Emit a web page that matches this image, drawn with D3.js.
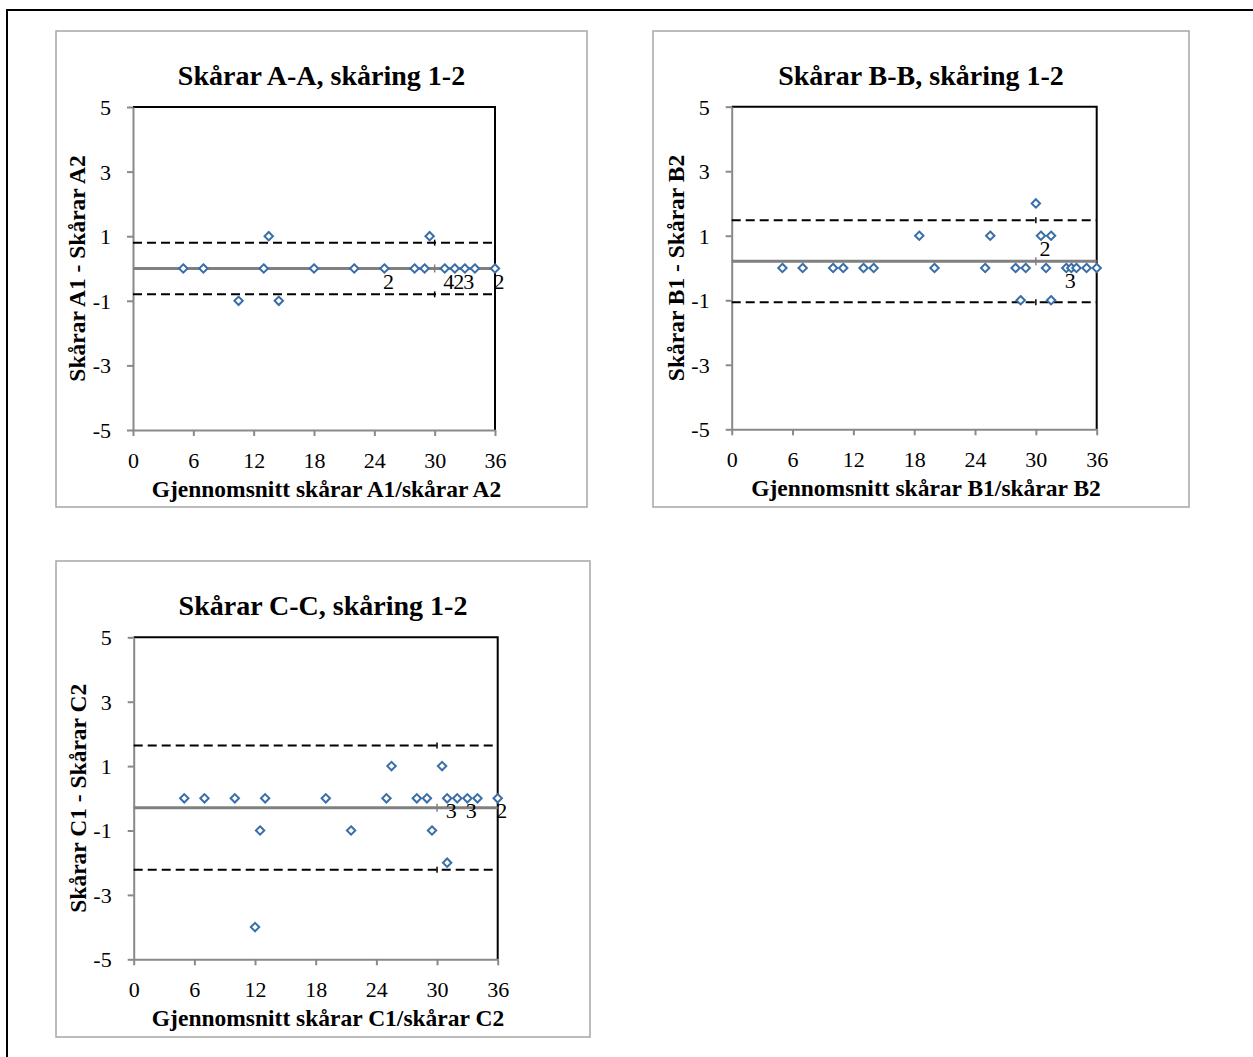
<!DOCTYPE html>
<html>
<head>
<meta charset="utf-8">
<script src="https://cdn.jsdelivr.net/npm/d3@7"></script>
<style>
  body { margin: 0; background: #fff; }
  svg text { font-family: "Times New Roman", "Liberation Serif", Times, serif; fill: #000; }
  .axis path, .axis line { stroke: #898989; stroke-width: 2; }
</style>
</head>
<body>
<svg id="chart" width="1253" height="1057"></svg>
<script>
// x ticks and y ticks shared by the three panels
const xTicks = [0, 6, 12, 18, 24, 30, 36];
const yTicks = [5, 3, 1, -1, -3, -5];

// [mean score, difference]
const pointsA = [
    [5, 0], [7, 0], [10.5, -1], [13, 0], [13.5, 1], [14.5, -1], [18, 0], [22, 0],
    [25, 0], [28, 0], [29, 0], [29.5, 1], [31, 0], [32, 0], [33, 0], [34, 0], [36, 0]
];
const pointsB = [
    [5, 0], [7, 0], [10, 0], [11, 0], [13, 0], [14, 0], [18.5, 1], [20, 0],
    [25, 0], [25.5, 1], [28, 0], [28.5, -1], [29, 0], [30, 2], [30.5, 1], [31, 0],
    [31.5, 1], [31.5, -1], [33, 0], [33.5, 0], [34, 0], [35, 0], [36, 0]
];
const pointsC = [
    [5, 0], [7, 0], [10, 0], [12, -4], [12.5, -1], [13, 0], [19, 0], [21.5, -1],
    [25, 0], [25.5, 1], [28, 0], [29, 0], [29.5, -1], [30.5, 1], [31, 0], [31, -2],
    [32, 0], [33, 0], [34, 0], [36, 0]
];

// [x, y, number of overlapping observations]
const countsA = [[25, 0, 2], [31, 0, 4], [32, 0, 2], [33, 0, 3], [36, 0, 2]];
const countsB = [[30.5, 1, 2], [33, 0, 3]];
const countsC = [[31, 0, 3], [33, 0, 3], [36, 0, 2]];

// [mean difference, lower limit, upper limit]
const statsA = [0, -0.8, 0.8];
const statsB = [0.21, -1.06, 1.48];
const statsC = [-0.29, -2.22, 1.64];

const panels = [
    {title: "Skårar A-A, skåring 1-2", xLabel: "Gjennomsnitt skårar A1/skårar A2", yLabel: "Skårar A1 - Skårar A2",
     points: pointsA, counts: countsA, stats: statsA,
     box: [56, 31, 587, 507], plot: [133, 107, 495, 430]},
    {title: "Skårar B-B, skåring 1-2", xLabel: "Gjennomsnitt skårar B1/skårar B2", yLabel: "Skårar B1 - Skårar B2",
     points: pointsB, counts: countsB, stats: statsB,
     box: [653, 31, 1189, 507], plot: [731.7, 106.7, 1096.7, 429.3]},
    {title: "Skårar C-C, skåring 1-2", xLabel: "Gjennomsnitt skårar C1/skårar C2", yLabel: "Skårar C1 - Skårar C2",
     points: pointsC, counts: countsC, stats: statsC,
     box: [56, 561, 590, 1037], plot: [133.7, 637.3, 497.7, 959.3]}
];

const svg = d3.select("#chart");

svg.append("rect")
    .attr("width", 1253).attr("height", 1057)
    .attr("fill", "#fff");

// outer frame
svg.append("rect")
    .attr("x", 7).attr("y", 10)
    .attr("width", 1260).attr("height", 1060)
    .attr("fill", "none")
    .attr("stroke", "#000")
    .attr("stroke-width", 2);

const diamond = r => `M0,${-r}L${r},0L0,${r}L${-r},0Z`;
const plain = d => String(d);

panels.forEach(drawPanel);

function drawPanel(p) {
    const [bx0, by0, bx1, by1] = p.box;
    const [px0, py0, px1, py1] = p.plot;
    const g = svg.append("g");

    g.append("rect")
        .attr("x", bx0).attr("y", by0)
        .attr("width", bx1 - bx0).attr("height", by1 - by0)
        .attr("fill", "#fff")
        .attr("stroke", "#a6a6a6")
        .attr("stroke-width", 1.5);

    const x = d3.scaleLinear().domain([0, 36]).range([px0, px1]);
    const y = d3.scaleLinear().domain([-5, 5]).range([py1, py0]);

    // top and right edges of the plot area
    g.append("path")
        .attr("d", `M${px0},${py0}H${px1}V${py1}`)
        .attr("fill", "none")
        .attr("stroke", "#000")
        .attr("stroke-width", 2);

    g.append("g")
        .attr("class", "axis")
        .attr("transform", `translate(0,${py1})`)
        .call(d3.axisBottom(x).tickValues(xTicks).tickFormat(plain)
            .tickSize(6).tickSizeOuter(0).tickPadding(16));

    g.append("g")
        .attr("class", "axis")
        .attr("transform", `translate(${px0},0)`)
        .call(d3.axisLeft(y).tickValues(yTicks).tickFormat(plain)
            .tickSize(6).tickSizeOuter(0).tickPadding(16))
        .call(a => a.selectAll("text").attr("dy", "0.34em"));

    g.selectAll(".axis")
        .attr("font-family", null)
        .attr("font-size", 22);

    // mean and limits of agreement
    const [mean, lower, upper] = p.stats;
    [lower, upper].forEach(v => {
        g.append("line")
            .attr("x1", x(0)).attr("x2", x(36))
            .attr("y1", y(v)).attr("y2", y(v))
            .attr("stroke", "#000")
            .attr("stroke-width", 2)
            .attr("stroke-dasharray", "9,5");
        g.append("line")
            .attr("x1", x(30)).attr("x2", x(30))
            .attr("y1", y(v) - 3).attr("y2", y(v) + 3)
            .attr("stroke", "#000")
            .attr("stroke-width", 1.5);
    });
    g.append("line")
        .attr("x1", x(0)).attr("x2", x(36))
        .attr("y1", y(mean)).attr("y2", y(mean))
        .attr("stroke", "#808080")
        .attr("stroke-width", 3);
    g.append("line")
        .attr("x1", x(30)).attr("x2", x(30))
        .attr("y1", y(mean) - 4).attr("y2", y(mean) + 4)
        .attr("stroke", "#808080")
        .attr("stroke-width", 1.5);

    g.selectAll(".pt")
        .data(p.points)
        .enter()
        .append("path")
        .attr("class", "pt")
        .attr("d", diamond(4.2))
        .attr("transform", d => `translate(${x(d[0])},${y(d[1])})`)
        .attr("fill", "#fff")
        .attr("stroke", "#3a6ea8")
        .attr("stroke-width", 2);

    g.selectAll(".count")
        .data(p.counts)
        .enter()
        .append("text")
        .attr("class", "count")
        .attr("x", d => x(d[0]) + 4)
        .attr("y", d => y(d[1]) + 20)
        .attr("text-anchor", "middle")
        .attr("font-size", 22)
        .text(d => d[2]);

    const cx = (bx0 + bx1) / 2;

    g.append("text")
        .attr("x", cx).attr("y", by0 + 54)
        .attr("text-anchor", "middle")
        .attr("font-size", 28)
        .attr("font-weight", "bold")
        .text(p.title);

    g.append("text")
        .attr("x", cx + 5).attr("y", py1 + 67)
        .attr("text-anchor", "middle")
        .attr("font-size", 23.5)
        .attr("font-weight", "bold")
        .text(p.xLabel);

    g.append("text")
        .attr("transform", `translate(${px0 - 56},${(py0 + py1) / 2}) rotate(-90)`)
        .attr("text-anchor", "middle")
        .attr("dominant-baseline", "central")
        .attr("font-size", 23.5)
        .attr("font-weight", "bold")
        .text(p.yLabel);
}
</script>
</body>
</html>
